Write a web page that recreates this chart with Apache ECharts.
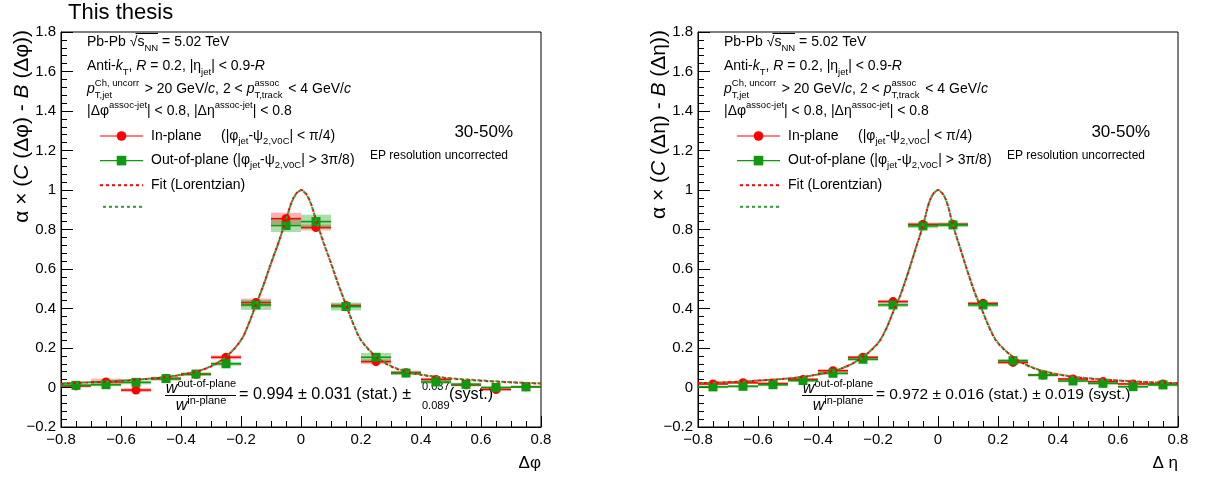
<!DOCTYPE html>
<html><head><meta charset="utf-8">
<script src="https://cdn.jsdelivr.net/npm/echarts@6/dist/echarts.min.js"></script>
<style>html,body{margin:0;padding:0;background:#fff}#c{width:1205px;height:477px}</style>
</head><body><div id="c"></div>
<script>
// ---------------- DATA ----------------
const binCenters = [-0.75,-0.65,-0.55,-0.45,-0.35,-0.25,-0.15,-0.05,0.05,0.15,0.25,0.35,0.45,0.55,0.65,0.75];
const binWidth = 0.1;
// Delta phi panel
const phiIn     = [0.008,0.028,-0.013,0.045,0.067,0.153,0.430,0.855,0.810,0.415,0.131,0.075,0.041,0.013,-0.010,0.004];
const phiInSys  = [0.008,0.017,0.010,0.010,0.008,0.010,0.020,0.030,0.015,0.010,0.012,0.010,0.008,0.008,0.006,0.005];
const phiOut    = [0.011,0.014,0.026,0.045,0.068,0.120,0.418,0.820,0.840,0.410,0.153,0.073,0.028,0.016,0.000,0.003];
const phiOutSys = [0.008,0.008,0.010,0.008,0.008,0.010,0.025,0.033,0.035,0.020,0.022,0.010,0.010,0.008,0.006,0.005];
// Delta eta panel
const etaIn     = [0.018,0.024,0.020,0.041,0.085,0.153,0.435,0.826,0.826,0.426,0.127,0.063,0.043,0.030,0.018,0.018];
const etaInSys  = [0.006,0.006,0.006,0.006,0.007,0.007,0.008,0.009,0.009,0.008,0.007,0.006,0.006,0.006,0.006,0.006];
const etaOut    = [0.003,0.006,0.014,0.035,0.072,0.143,0.418,0.818,0.823,0.418,0.136,0.063,0.033,0.021,0.004,0.013];
const etaOutSys = [0.007,0.007,0.007,0.007,0.008,0.008,0.010,0.011,0.011,0.010,0.008,0.007,0.007,0.007,0.007,0.007];
// Lorentzian fit curves
const fitX      = [-0.8,-0.7,-0.6,-0.5,-0.45,-0.4,-0.35,-0.3,-0.25,-0.2,-0.175,-0.15,-0.125,-0.1,-0.075,-0.05,-0.025,0,0.025,0.05,0.075,0.1,0.125,0.15,0.175,0.2,0.25,0.3,0.35,0.4,0.45,0.5,0.6,0.7,0.8];
const fitPhiIn  = [0.020,0.026,0.034,0.045,0.053,0.064,0.080,0.107,0.155,0.240,0.320,0.420,0.520,0.630,0.735,0.850,0.960,1.000,0.960,0.850,0.735,0.630,0.520,0.420,0.320,0.240,0.155,0.107,0.080,0.064,0.053,0.045,0.034,0.026,0.020];
const fitPhiOut = [0.021,0.027,0.035,0.046,0.054,0.065,0.081,0.108,0.156,0.240,0.320,0.418,0.518,0.628,0.733,0.848,0.958,0.998,0.958,0.848,0.733,0.628,0.518,0.418,0.320,0.241,0.157,0.109,0.082,0.066,0.055,0.047,0.036,0.027,0.021];
const fitEtaIn  = [0.022,0.027,0.035,0.046,0.054,0.066,0.083,0.110,0.155,0.225,0.290,0.380,0.470,0.580,0.700,0.820,0.955,1.000,0.955,0.820,0.700,0.580,0.470,0.380,0.290,0.225,0.155,0.110,0.083,0.066,0.054,0.046,0.035,0.027,0.022];
const fitEtaOut = [0.022,0.027,0.035,0.046,0.054,0.066,0.083,0.110,0.155,0.226,0.291,0.381,0.471,0.581,0.701,0.821,0.955,0.998,0.955,0.821,0.701,0.581,0.471,0.381,0.291,0.226,0.156,0.111,0.084,0.067,0.055,0.047,0.036,0.027,0.022];
const yTicks = {min:-0.2, max:1.8, step:0.2};
const xTicks = {min:-0.8, max:0.8, step:0.2};

// ---------------- STYLE ----------------
const FONT = '"Liberation Sans", Arial, Helvetica, sans-serif';
const RED = '#ff0000', GREEN = '#0f990f', GREEN_FIT = '#2f9a2f';
const RED_BOX = 'rgba(255,0,0,0.30)', GREEN_BOX = 'rgba(0,150,0,0.33)';
const GRID_LEFT = [61, 698];
const GRID_TOP = 32, GRID_W = 480, GRID_H = 395;

function fmt(v){ const r = Math.round(v*10)/10; if (Math.abs(r) < 1e-9) return '0'; return String(r).replace('-', '\u2212'); }
function R(size, extra){ return Object.assign({fontFamily:FONT, fontSize:size, fill:'#000', color:'#000'}, extra||{}); }

function errRender(color, fill){
  return function(params, api){
    const x = api.value(0), y = api.value(1), s = api.value(2), hw = binWidth/2;
    const a = api.coord([x-hw, y+s]), b = api.coord([x+hw, y-s]);
    const l1 = api.coord([x-hw, y]), l2 = api.coord([x+hw, y]);
    return {type:'group', children:[
      {type:'rect', shape:{x:a[0], y:a[1], width:b[0]-a[0], height:b[1]-a[1]}, style:{fill:fill}},
      {type:'line', shape:{x1:l1[0], y1:l1[1], x2:l2[0], y2:l2[1]}, style:{stroke:color, lineWidth:1.6}}
    ]};
  };
}

const panels = [
  {inV:phiIn, inS:phiInSys, outV:phiOut, outS:phiOutSys, fIn:fitPhiIn, fOut:fitPhiOut, v:'φ', xname:'Δφ',
   ratio:'= 0.994 ± 0.031 (stat.) ±', up:'0.037', low:'0.089', syst:'(syst.)', rsize:16.2},
  {inV:etaIn, inS:etaInSys, outV:etaOut, outS:etaOutSys, fIn:fitEtaIn, fOut:fitEtaOut, v:'η', xname:'Δ η',
   ratio:'= 0.972 ± 0.016 (stat.) ± 0.019 (syst.)', rsize:15.5}
];

const grid = [], xAxis = [], yAxis = [], series = [], legend = [], graphic = [];

panels.forEach((p, k) => {
  grid.push({left:GRID_LEFT[k], top:GRID_TOP, width:GRID_W, height:GRID_H, show:true, borderColor:'#000', borderWidth:1, backgroundColor:'transparent'});
  xAxis.push({type:'value', gridIndex:k, min:xTicks.min, max:xTicks.max, interval:xTicks.step,
    axisLine:{show:true, onZero:false, lineStyle:{color:'#000', width:1}},
    axisTick:{show:true, inside:true, length:11, lineStyle:{color:'#000', width:1}},
    minorTick:{show:true, splitNumber:4, length:6, lineStyle:{color:'#000', width:1}},
    splitLine:{show:false}, minorSplitLine:{show:false},
    axisLabel:{color:'#000', fontFamily:FONT, fontSize:15, margin:5, formatter:fmt, showMinLabel:true, showMaxLabel:true}});
  yAxis.push({type:'value', gridIndex:k, min:yTicks.min, max:yTicks.max, interval:yTicks.step,
    axisLine:{show:true, onZero:false, lineStyle:{color:'#000', width:1}},
    axisTick:{show:true, inside:true, length:12, lineStyle:{color:'#000', width:1}},
    minorTick:{show:true, splitNumber:5, length:6, lineStyle:{color:'#000', width:1}},
    splitLine:{show:false}, minorSplitLine:{show:false},
    axisLabel:{color:'#000', fontFamily:FONT, fontSize:15, margin:5, formatter:fmt, showMinLabel:true, showMaxLabel:true}});

  const mk = (vals, sys) => binCenters.map((x,i) => [x, vals[i], sys[i]]);
  series.push({type:'custom', name:'sysIn'+k, xAxisIndex:k, yAxisIndex:k, renderItem:errRender(RED, RED_BOX), encode:{x:0,y:1}, data:mk(p.inV,p.inS), z:1, silent:true});
  series.push({type:'custom', name:'sysOut'+k, xAxisIndex:k, yAxisIndex:k, renderItem:errRender(GREEN, GREEN_BOX), encode:{x:0,y:1}, data:mk(p.outV,p.outS), z:1, silent:true});
  series.push({type:'line', name:'In-plane', xAxisIndex:k, yAxisIndex:k, data:binCenters.map((x,i)=>[x,p.inV[i]]),
    symbol:'circle', symbolSize:9, showSymbol:true, itemStyle:{color:RED}, lineStyle:{width:0, color:RED}, z:5, silent:true});
  series.push({type:'line', name:'Out-of-plane', xAxisIndex:k, yAxisIndex:k, data:binCenters.map((x,i)=>[x,p.outV[i]]),
    symbol:'rect', symbolSize:9, showSymbol:true, itemStyle:{color:GREEN}, lineStyle:{width:0, color:GREEN}, z:6, silent:true});
  series.push({type:'line', name:'Fit (Lorentzian)', xAxisIndex:k, yAxisIndex:k, data:fitX.map((x,i)=>[x,p.fIn[i]]),
    smooth:0.35, symbol:'none', lineStyle:{color:RED, width:2, type:[3,3]}, itemStyle:{color:RED}, z:7, silent:true});
  series.push({type:'line', name:'Fit2', xAxisIndex:k, yAxisIndex:k, data:fitX.map((x,i)=>[x,p.fOut[i]]),
    smooth:0.35, symbol:'none', lineStyle:{color:GREEN_FIT, width:2, type:[3,3], dashOffset:3}, itemStyle:{color:GREEN_FIT}, z:8, silent:true});

  const legendRich = {
    n:{fontFamily:FONT, fontSize:14, color:'#000', lineHeight:20, verticalAlign:'middle'},
    sub:{fontFamily:FONT, fontSize:9.5, color:'#000', lineHeight:9, verticalAlign:'bottom'}
  };
  const legendText = {
    'In-plane':'{n|In-plane     (|φ}{sub|jet}{n|-ψ}{sub|2,V0C}{n|| < π/4)}',
    'Out-of-plane':'{n|Out-of-plane (|φ}{sub|jet}{n|-ψ}{sub|2,V0C}{n|| > 3π/8)}',
    'Fit (Lorentzian)':'{n|Fit (Lorentzian)}',
    'Fit2':'{n| }'
  };
  legend.push({orient:'vertical', left:GRID_LEFT[k]+33, top:124, padding:5, itemWidth:43, itemHeight:12, itemGap:7.6, selectedMode:false,
    data:[{name:'In-plane', lineStyle:{width:1.2, opacity:1}}, {name:'Out-of-plane', lineStyle:{width:1.2, opacity:1}},
          {name:'Fit (Lorentzian)', itemStyle:{opacity:0}}, {name:'Fit2', itemStyle:{opacity:0}}],
    formatter:(n) => legendText[n],
    textStyle:{fontFamily:FONT, fontSize:14, color:'#000', rich:legendRich, padding:[0,0,0,3]}});

  // ---- text annotations ----
  const ox = GRID_LEFT[k];
  const info = {
    n:R(14,{lineHeight:22, verticalAlign:'middle'}),
    i:R(14,{fontStyle:'italic', lineHeight:22, verticalAlign:'middle'}),
    hn:R(14,{fill:'rgba(0,0,0,0)', color:'rgba(0,0,0,0)', lineHeight:22, verticalAlign:'middle'}),
    hi:R(14,{fill:'rgba(0,0,0,0)', color:'rgba(0,0,0,0)', fontStyle:'italic', lineHeight:22, verticalAlign:'middle'}),
    sub:R(9.5,{lineHeight:9, verticalAlign:'bottom'}),
    sup:R(9.5,{lineHeight:9, verticalAlign:'top'}),
    supA:R(9.5,{lineHeight:9, verticalAlign:'top', width:46}),
    subA:R(9.5,{lineHeight:9, verticalAlign:'bottom', width:46}),
    supB:R(9.5,{lineHeight:9, verticalAlign:'top', width:30}),
    subB:R(9.5,{lineHeight:9, verticalAlign:'bottom', width:30})
  };
  const T = (x, y, text, rich, align, extra) => Object.assign({type:'text', x:x, y:y, silent:true,
    style:{x:0, y:0, text:text, rich:rich, align:align||'left', textAlign:align||'left', verticalAlign:'middle', textVerticalAlign:'middle', fill:'#000', font:'14px '+FONT}}, extra||{});
  graphic.push(T(ox+26, 42, '{n|Pb-Pb √}{n|s}{sub|NN}{n| = 5.02 TeV}', info));
  graphic.push({type:'line', silent:true, shape:{x1:ox+74.5, y1:33.5, x2:ox+97, y2:33.5}, style:{stroke:'#000', lineWidth:1}});
  graphic.push(T(ox+26, 66, '{n|Anti-}{i|k}{sub|T}{n|, }{i|R}{n| = 0.2, |η}{sub|jet}{n|| < 0.9-}{i|R}', info));
  graphic.push(T(ox+26, 89, '{i|p}{supA|Ch, uncorr}{n| > 20 GeV/}{i|c}{n|, 2 < }{i|p}{supB|assoc}{n| < 4 GeV/}{i|c}', info));
  graphic.push(T(ox+26, 89, '{hi|p}{subA|T,jet}{hn| > 20 GeV/}{hi|c}{hn|, 2 < }{hi|p}{subB|T,track}{hn| < 4 GeV/}{hi|c}', info));
  graphic.push(T(ox+26, 111, '{n||Δφ}{sup|assoc-jet}{n|| < 0.8, |Δη}{sup|assoc-jet}{n|| < 0.8}', info));
  graphic.push(T(ox+452, 132, '{b|30-50%}', {b:R(17)}, 'right'));
  graphic.push(T(ox+447, 156, '{s|EP resolution uncorrected}', {s:R(12)}, 'right'));

  const fr = {w:R(16,{fontStyle:'italic', lineHeight:22, verticalAlign:'middle'}), s:R(11,{lineHeight:10, verticalAlign:'top'})};
  graphic.push(T(ox+140, 389, '{w|w}{s|out-of-plane}', fr, 'center'));
  graphic.push({type:'line', silent:true, shape:{x1:ox+104, y1:395.5, x2:ox+175, y2:395.5}, style:{stroke:'#000', lineWidth:1}});
  graphic.push(T(ox+140, 406, '{w|w}{s|in-plane}', fr, 'center'));
  graphic.push(T(ox+178, 395, '{n|'+p.ratio+'}', {n:R(p.rsize)}));
  if (p.up){
    graphic.push(T(ox+361, 387, '{s|'+p.up+'}', {s:R(11)}));
    graphic.push(T(ox+361, 406, '{s|'+p.low+'}', {s:R(11)}));
    graphic.push(T(ox+388, 395, '{n|'+p.syst+'}', {n:R(p.rsize)}));
  }
  // axis titles
  const tr = {n:R(21), i:R(21,{fontStyle:'italic'})};
  graphic.push(T(ox-39, 30, '{n|α × (}{i|C}{n| (Δ'+p.v+') - }{i|B}{n| (Δ'+p.v+'))}', tr, 'right', {rotation:Math.PI/2}));
  graphic.push(T(ox+480, 463, '{n|'+p.xname+'}', {n:R(17)}, 'right'));
});
graphic.push({type:'text', x:68, y:13, silent:true, style:{x:0, y:0, text:'This thesis', font:'22px '+FONT, fill:'#000', align:'left', textAlign:'left', verticalAlign:'middle', textVerticalAlign:'middle'}});

const chart = echarts.init(document.getElementById('c'), null, {renderer:'canvas'});
chart.setOption({animation:false, backgroundColor:'#fff', grid, xAxis, yAxis, series, legend, graphic, tooltip:{show:false}});
</script></body></html>
